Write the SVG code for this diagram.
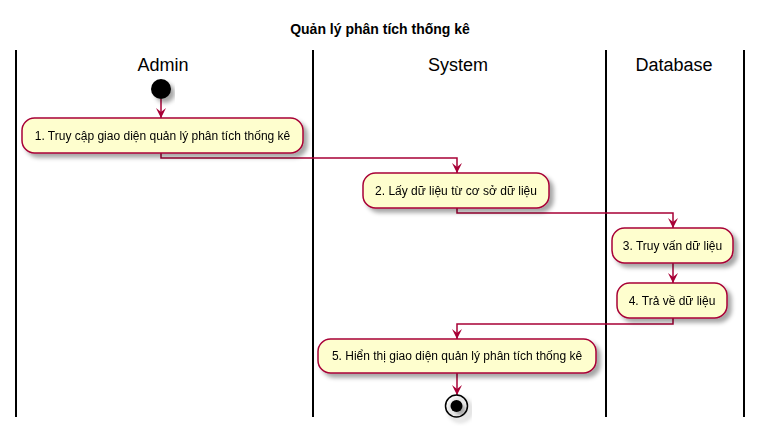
<svg xmlns="http://www.w3.org/2000/svg" width="761" height="432" viewBox="0 0 761 432">
<style>
.lane{stroke:#000;stroke-width:2}
.act{fill:#FEFECE;stroke:#A80036;stroke-width:1.5}
.t{font-family:"Liberation Sans",Arial,sans-serif;font-size:12px;fill:#000;text-anchor:middle}
.lt{font-family:"Liberation Sans",Arial,sans-serif;font-size:18px;fill:#000;text-anchor:middle}
.ti{font-family:"Liberation Sans",Arial,sans-serif;font-size:14px;font-weight:bold;fill:#000;text-anchor:middle}
.c{fill:none;stroke:#A80036;stroke-width:1.5}
</style>
<defs>
<filter id="sh" x="-20%" y="-30%" width="140%" height="170%">
<feGaussianBlur in="SourceAlpha" stdDeviation="2"/>
<feOffset dx="4" dy="4" result="b"/>
<feColorMatrix in="b" type="matrix" values="0 0 0 0 0  0 0 0 0 0  0 0 0 0 0  0 0 0 0.35 0"/>
<feMerge><feMergeNode/><feMergeNode in="SourceGraphic"/></feMerge>
</filter>
<marker id="ah" viewBox="0 0 10 10" refX="10" refY="5" markerWidth="10" markerHeight="10" markerUnits="userSpaceOnUse" orient="auto">
<path d="M0,0 L10,5 L0,10 L4,5 Z" fill="#A80036"/>
</marker>
</defs>
<rect width="761" height="432" fill="#fff"/>
<text class="ti" x="380" y="34">Quản lý phân tích thống kê</text>
<g id="lanes">
<line class="lane" x1="16" y1="50" x2="16" y2="417"/>
<line class="lane" x1="313" y1="50" x2="313" y2="417"/>
<line class="lane" x1="606" y1="50" x2="606" y2="417"/>
<line class="lane" x1="744" y1="50" x2="744" y2="417"/>
<text class="lt" x="163" y="71">Admin</text>
<text class="lt" x="458" y="71">System</text>
<text class="lt" x="674" y="71">Database</text>
</g>
<g id="connectors">
<path class="c" d="M161,99 V118" marker-end="url(#ah)"/>
<path class="c" d="M161,153 V158 H457 V173" marker-end="url(#ah)"/>
<path class="c" d="M457,208 V213 H673 V228" marker-end="url(#ah)"/>
<path class="c" d="M673,263 V283" marker-end="url(#ah)"/>
<path class="c" d="M673,318 V324 H457 V339" marker-end="url(#ah)"/>
<path class="c" d="M457,373 V395" marker-end="url(#ah)"/>
</g>
<g id="start" filter="url(#sh)">
<circle cx="161" cy="89" r="10" fill="#000"/>
</g>
<g id="a1" filter="url(#sh)">
<rect class="act" x="22" y="118" width="281" height="35" rx="12.5"/>
<text class="t" x="162.5" y="140">1. Truy cập giao diện quản lý phân tích thống kê</text>
</g>
<g id="a2" filter="url(#sh)">
<rect class="act" x="363" y="173" width="186" height="35" rx="12.5"/>
<text class="t" x="456" y="195">2. Lấy dữ liệu từ cơ sở dữ liệu</text>
</g>
<g id="a3" filter="url(#sh)">
<rect class="act" x="612" y="228" width="121" height="35" rx="12.5"/>
<text class="t" x="672.5" y="250">3. Truy vấn dữ liệu</text>
</g>
<g id="a4" filter="url(#sh)">
<rect class="act" x="617" y="283" width="110" height="35" rx="12.5"/>
<text class="t" x="672" y="305">4. Trả về dữ liệu</text>
</g>
<g id="a5" filter="url(#sh)">
<rect class="act" x="318" y="339" width="278" height="34" rx="12.5"/>
<text class="t" x="457" y="360">5. Hiển thị giao diện quản lý phân tích thống kê</text>
</g>
<g id="end" filter="url(#sh)">
<circle cx="456.5" cy="406" r="11" fill="none" stroke="#000" stroke-width="1.5"/>
<circle cx="456.5" cy="406" r="6" fill="#000"/>
</g>
</svg>
